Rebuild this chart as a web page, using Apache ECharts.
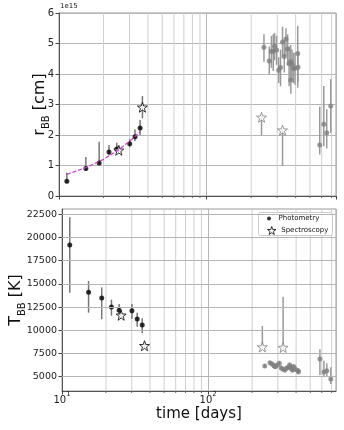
<!DOCTYPE html>
<html>
<head>
<meta charset="utf-8">
<script src="https://cdn.jsdelivr.net/npm/echarts@6/dist/echarts.min.js"></script>
<style>
  html, body { margin: 0; padding: 0; background: #fff; }
  #chart { width: 344px; height: 430px; }
</style>
</head>
<body>
<div id="chart"></div>
<script>
// early photometry (black)
const tPhot = [11.3, 15.2, 18.7, 21.8, 24.6, 30.1, 32.7, 35.4]
const rPhot = [0.48, 0.90, 1.08, 1.44, 1.54, 1.71, 1.94, 2.23]
const rPhotLo = [0.42, 0.82, 1.00, 1.33, 1.44, 1.60, 1.80, 2.00]
const rPhotHi = [0.76, 1.28, 1.78, 1.67, 1.75, 1.86, 2.18, 2.49]
const TPhot = [19190, 14100, 13480, 12510, 12150, 12110, 11220, 10570]
const TPhotLo = [14050, 11900, 11190, 11570, 11540, 11250, 10390, 9680]
const TPhotHi = [22180, 15310, 14630, 13300, 12830, 12830, 11900, 11290]

// early spectroscopy (black stars)
const tSpec = [25.4, 36.7]
const rSpec = [1.50, 2.91]
const rSpecLo = [1.42, 2.55]
const rSpecHi = [1.58, 3.28]
const TSpec = [11620, 8340]
const TSpecLo = [11350, 8150]
const TSpecHi = [11900, 8550]

// late photometry (gray)
const tLate = [244, 265, 274, 282, 288, 297, 307, 316, 326, 335, 344, 353, 361, 370, 371, 378, 386, 396, 413, 415, 582, 620, 649, 691]
const rLate = [4.88, 4.43, 4.74, 4.75, 4.91, 4.79, 4.12, 4.21, 5.05, 4.57, 5.15, 4.82, 4.34, 4.41, 3.80, 4.32, 4.19, 4.19, 4.67, 4.22, 1.67, 2.35, 2.07, 2.95]
const rLateLo = [4.40, 4.00, 4.20, 4.10, 4.45, 4.30, 3.70, 3.60, 4.55, 4.05, 4.60, 4.30, 3.60, 3.85, 3.35, 3.80, 3.70, 3.65, 3.55, 3.75, 1.36, 1.63, 1.56, 2.07]
const rLateHi = [5.30, 4.90, 5.25, 5.30, 5.35, 5.25, 4.55, 4.80, 5.55, 5.10, 5.50, 5.30, 4.90, 4.95, 4.30, 4.80, 4.70, 4.70, 5.58, 4.70, 2.93, 3.61, 2.84, 3.83]
const TLate = [6150, 6500, 6370, 6190, 6080, 6260, 6440, 5940, 5800, 5720, 5900, 6010, 6260, 6080, 5860, 5720, 6080, 5800, 5650, 5540, 6920, 5500, 5640, 4740]
const TLateLo = [5950, 6250, 6150, 5950, 5850, 6000, 6200, 5700, 5550, 5450, 5650, 5750, 6000, 5800, 5600, 5450, 5800, 5500, 5350, 5250, 5180, 4930, 5080, 4210]
const TLateHi = [6350, 6700, 6600, 6450, 6300, 6500, 6700, 6200, 6050, 5950, 6150, 6250, 6500, 6350, 6100, 6000, 6350, 6050, 5900, 5800, 7950, 6720, 6440, 6010]

// late spectroscopy (gray stars)
const tSpecLate = [235, 326]
const rSpecLate = [2.58, 2.16]
const rSpecLateLo = [2.00, 0.99]
const rSpecLateHi = [2.62, 2.20]
const TSpecLate = [8200, 8150]
const TSpecLateLo = [8000, 7950]
const TSpecLateHi = [10460, 13620]

// dashed fit through the early radii
const fitT = [11.3, 15, 20, 25, 30, 35.4]
const fitR = [0.71, 0.92, 1.20, 1.50, 1.79, 2.10]

// axis ticks
const minorX = [20, 30, 40, 50, 60, 70, 80, 90, 200, 300, 400, 500, 600, 700]
const tempTicks = [5000, 7500, 10000, 12500, 15000, 17500, 20000, 22500]

const STAR = 'path://M0,-10L2.35,-3.24L9.51,-3.09L3.8,1.24L5.88,8.09L0,4L-5.88,8.09L-3.8,1.24L-9.51,-3.09L-2.35,-3.24Z'
const FONT = 'DejaVu Sans'

function pts(xs, ys) {
  return xs.map((x, i) => [x, ys[i]])
}
function bars(xs, lo, hi) {
  return xs.map((x, i) => [x, lo[i], hi[i]])
}

function errSeries(data, idx, color) {
  return {
    type: 'custom',
    xAxisIndex: idx, yAxisIndex: idx,
    data: data,
    encode: { x: 0, y: [1, 2] },
    z: 2,
    silent: true,
    renderItem(params, api) {
      const a = api.coord([api.value(0), api.value(1)])
      const b = api.coord([api.value(0), api.value(2)])
      return {
        type: 'line',
        shape: { x1: a[0], y1: a[1], x2: b[0], y2: b[1] },
        style: { stroke: color, lineWidth: 1.5 }
      }
    }
  }
}

// minor vertical grid lines + minor ticks at 20..90, 200..700
function minorGrid(idx) {
  return {
    type: 'custom',
    xAxisIndex: idx, yAxisIndex: idx,
    data: minorX.map(v => [v]),
    encode: { x: 0 },
    z: 0,
    silent: true,
    renderItem(params, api) {
      const cs = params.coordSys
      const p = api.coord([api.value(0), 0])
      return {
        type: 'group',
        children: [
          { type: 'line', shape: { x1: p[0], y1: cs.y, x2: p[0], y2: cs.y + cs.height },
            style: { stroke: '#cfcfcf', lineWidth: 1 } },
          { type: 'line', shape: { x1: p[0], y1: cs.y + cs.height, x2: p[0], y2: cs.y + cs.height + 2 },
            style: { stroke: '#444', lineWidth: 0.8 } }
        ]
      }
    }
  }
}

function scatter(name, data, idx, symbol, size, color, border) {
  return {
    name: name,
    type: 'scatter',
    xAxisIndex: idx, yAxisIndex: idx,
    data: data,
    symbol: symbol,
    symbolSize: size,
    z: 3,
    itemStyle: border ? { color: '#fff', borderColor: border, borderWidth: 1 } : { color: color }
  }
}

function xAxis(idx, labels) {
  return {
    type: 'log',
    gridIndex: idx,
    min: 10, max: 750,
    logBase: 10,
    axisLine: { lineStyle: { color: '#555' } },
    axisTick: { length: 3.5, lineStyle: { color: '#444' } },
    splitLine: { show: true, lineStyle: { color: '#b5b5b5' } },
    minorTick: { show: false },
    axisLabel: {
      show: labels,
      showMaxLabel: false,
      margin: 0,
      formatter(v) {
        const e = Math.round(Math.log10(v))
        if (Math.abs(Math.pow(10, e) - v) > 1e-6) return ''
        return '{b|10}{s|' + e + '}'
      },
      rich: {
        b: { fontFamily: FONT, fontSize: 10, color: '#222', lineHeight: 14, verticalAlign: 'bottom' },
        s: { fontFamily: FONT, fontSize: 7, color: '#222', lineHeight: 8, verticalAlign: 'top' }
      }
    },
    name: labels ? 'time [days]' : '',
    nameLocation: 'middle',
    nameGap: 16,
    nameMoveOverlap: false,
    nameTextStyle: { fontFamily: FONT, fontSize: 15, color: '#111', verticalAlign: 'top' }
  }
}

const nameRich = {
  a: { fontFamily: FONT, fontSize: 16, color: '#111', lineHeight: 18, verticalAlign: 'top' },
  b: { fontFamily: FONT, fontSize: 10, color: '#111', lineHeight: 10, padding: [9, 0, 0, 0], verticalAlign: 'top' }
}

const option = {
  animation: false,
  backgroundColor: '#fff',
  grid: [
    { left: 59, right: 8, top: 13, height: 183, show: true, borderColor: '#999', borderWidth: 1 },
    { left: 59, right: 8, top: 209, height: 182, show: true, borderColor: '#999', borderWidth: 1 }
  ],
  xAxis: [xAxis(0, false), xAxis(1, true)],
  yAxis: [
    {
      type: 'value', gridIndex: 0, min: 0, max: 6, interval: 1,
      axisLine: { show: true, lineStyle: { color: '#555' } },
      axisTick: { show: true, length: 3.5, lineStyle: { color: '#444' } },
      splitLine: { lineStyle: { color: '#b5b5b5' } },
      axisLabel: { fontFamily: FONT, fontSize: 10, color: '#222', margin: 5 },
      name: '{a|r}{b|BB}{a| [cm]}',
      nameLocation: 'middle', nameGap: 9, nameMoveOverlap: false,
      nameTextStyle: { rich: nameRich }
    },
    {
      type: 'value', gridIndex: 1, min: 3460, max: 23070,
      axisLine: { show: true, lineStyle: { color: '#555' } },
      axisTick: { show: true, length: 3.5, customValues: tempTicks, lineStyle: { color: '#444' } },
      splitLine: { show: false },
      axisLabel: {
        fontFamily: FONT, fontSize: 9.5, color: '#222', margin: 5, customValues: tempTicks,
        formatter: v => String(v)
      },
      name: '{a|T}{b|BB}{a| [K]}',
      nameLocation: 'middle', nameGap: 36, nameMoveOverlap: false,
      nameTextStyle: { rich: nameRich }
    }
  ],
  legend: [
    {
      left: 267, top: 215, z: 10,
      itemWidth: 9, itemHeight: 4, padding: 0,
      textStyle: { fontFamily: FONT, fontSize: 7, color: '#111' },
      data: [{ name: 'Photometry', icon: 'circle', itemStyle: { color: '#000' } }]
    },
    {
      left: 267, top: 226, z: 10,
      itemWidth: 9, itemHeight: 8, padding: 0,
      textStyle: { fontFamily: FONT, fontSize: 7, color: '#111' },
      data: [{ name: 'Spectroscopy', icon: STAR, itemStyle: { color: '#fff', borderColor: '#000', borderWidth: 1 } }]
    }
  ],
  graphic: [
    { type: 'text', left: 60, top: 3, style: { text: '1e15', fontFamily: FONT, fontSize: 7, fill: '#222' } },
    {
      type: 'rect', left: 258, top: 212, z: 5, silent: true,
      shape: { width: 74, height: 23, r: 2 },
      style: { fill: 'rgba(255,255,255,0.85)', stroke: '#ccc', lineWidth: 1 }
    }
  ],
  series: [
    minorGrid(0),
    minorGrid(1),
    {
      type: 'scatter', xAxisIndex: 1, yAxisIndex: 1, data: [], silent: true,
      markLine: {
        silent: true, symbol: 'none', label: { show: false },
        lineStyle: { color: '#b5b5b5', type: 'solid', width: 1 },
        data: tempTicks.map(v => ({ yAxis: v }))
      }
    },
    // top panel: radius
    errSeries(bars(tPhot, rPhotLo, rPhotHi), 0, '#777'),
    errSeries(bars(tSpec, rSpecLo, rSpecHi), 0, '#777'),
    errSeries(bars(tLate, rLateLo, rLateHi), 0, '#9a9a9a'),
    errSeries(bars(tSpecLate, rSpecLateLo, rSpecLateHi), 0, '#9a9a9a'),
    {
      type: 'line', xAxisIndex: 0, yAxisIndex: 0,
      data: pts(fitT, fitR), symbol: 'none', z: 4,
      lineStyle: { color: '#d633d6', width: 1.2, type: [4, 2] }
    },
    scatter('Photometry', pts(tPhot, rPhot), 0, 'circle', 5, '#000'),
    scatter('Spectroscopy', pts(tSpec, rSpec), 0, STAR, 10, null, '#000'),
    scatter('late phot r', pts(tLate, rLate), 0, 'circle', 5, '#808080'),
    scatter('late spec r', pts(tSpecLate, rSpecLate), 0, STAR, 10, null, '#808080'),
    // bottom panel: temperature
    errSeries(bars(tPhot, TPhotLo, TPhotHi), 1, '#777'),
    errSeries(bars(tSpec, TSpecLo, TSpecHi), 1, '#777'),
    errSeries(bars(tLate, TLateLo, TLateHi), 1, '#9a9a9a'),
    errSeries(bars(tSpecLate, TSpecLateLo, TSpecLateHi), 1, '#9a9a9a'),
    scatter('Photometry', pts(tPhot, TPhot), 1, 'circle', 5, '#000'),
    scatter('Spectroscopy', pts(tSpec, TSpec), 1, STAR, 10, null, '#000'),
    scatter('late phot T', pts(tLate, TLate), 1, 'circle', 5, '#808080'),
    scatter('late spec T', pts(tSpecLate, TSpecLate), 1, STAR, 10, null, '#808080')
  ]
}

const chart = echarts.init(document.getElementById('chart'), null, { renderer: 'canvas' })
chart.setOption(option)
</script>
</body>
</html>
